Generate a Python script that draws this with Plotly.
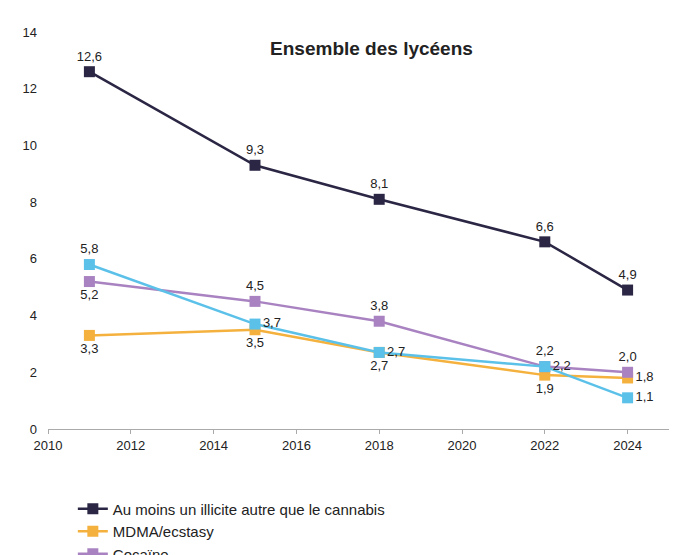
import plotly.graph_objects as go

annees = [2011, 2015, 2018, 2022, 2024]
illicite = [12.6, 9.3, 8.1, 6.6, 4.9]
mdma = [3.3, 3.5, 2.7, 1.9, 1.8]
cocaine = [5.2, 4.5, 3.8, 2.2, 2.0]
champignons = [5.8, 3.7, 2.7, 2.2, 1.1]

noms = ["Au moins un illicite autre que le cannabis", "MDMA/ecstasy",
        "Cocaïne", "Champignons hallucinogènes"]
series = [illicite, mdma, cocaine, champignons]
couleurs = ["#2a2644", "#f5b13d", "#a983c1", "#5bc1e9"]
positions = [
    ["top center"] * 5,
    ["bottom center"] * 4 + ["middle right"],
    ["bottom center", "top center", "top center", "top center", "top center"],
    ["top center", "middle right", "middle right", "middle right", "middle right"],
]

police = "Liberation Sans Narrow, Arial Narrow, sans-serif"

fig = go.Figure()
for nom, vals, coul, pos in zip(noms, series, couleurs, positions):
    fig.add_trace(go.Scatter(
        x=annees, y=vals, name=nom, mode="lines+markers+text",
        line=dict(color=coul, width=2.5),
        marker=dict(symbol="square", size=11, color=coul),
        text=[f"{v:.1f}".replace(".", ",") for v in vals],
        textposition=pos,
        textfont=dict(size=13, color="#222", family=police),
        cliponaxis=False,
    ))

fig.update_layout(
    width=699, height=555,
    margin=dict(l=40, r=38, t=24, b=134, autoexpand=False),
    plot_bgcolor="white", paper_bgcolor="white",
    font=dict(family=police, size=14, color="#222"),
    title=dict(text="<b>Ensemble des lycéens</b>", x=0.52, y=0.94,
               xanchor="center", font=dict(size=19)),
    xaxis=dict(range=[2010, 2025], tickvals=list(range(2010, 2025, 2)),
               showgrid=False, showline=True, linecolor="#aaa", linewidth=1,
               ticks="outside", tickcolor="#aaa", ticklen=4, zeroline=False,
               tickfont=dict(size=13)),
    yaxis=dict(range=[0, 14], dtick=2, showgrid=False, zeroline=False,
               tickfont=dict(size=13), ticklabelstandoff=10),
    legend=dict(orientation="h", x=0.04, y=-0.16, xanchor="left", yanchor="top",
                entrywidth=390, entrywidthmode="pixels",
                font=dict(size=15), tracegroupgap=10),
)

fig.write_html("out.html")
